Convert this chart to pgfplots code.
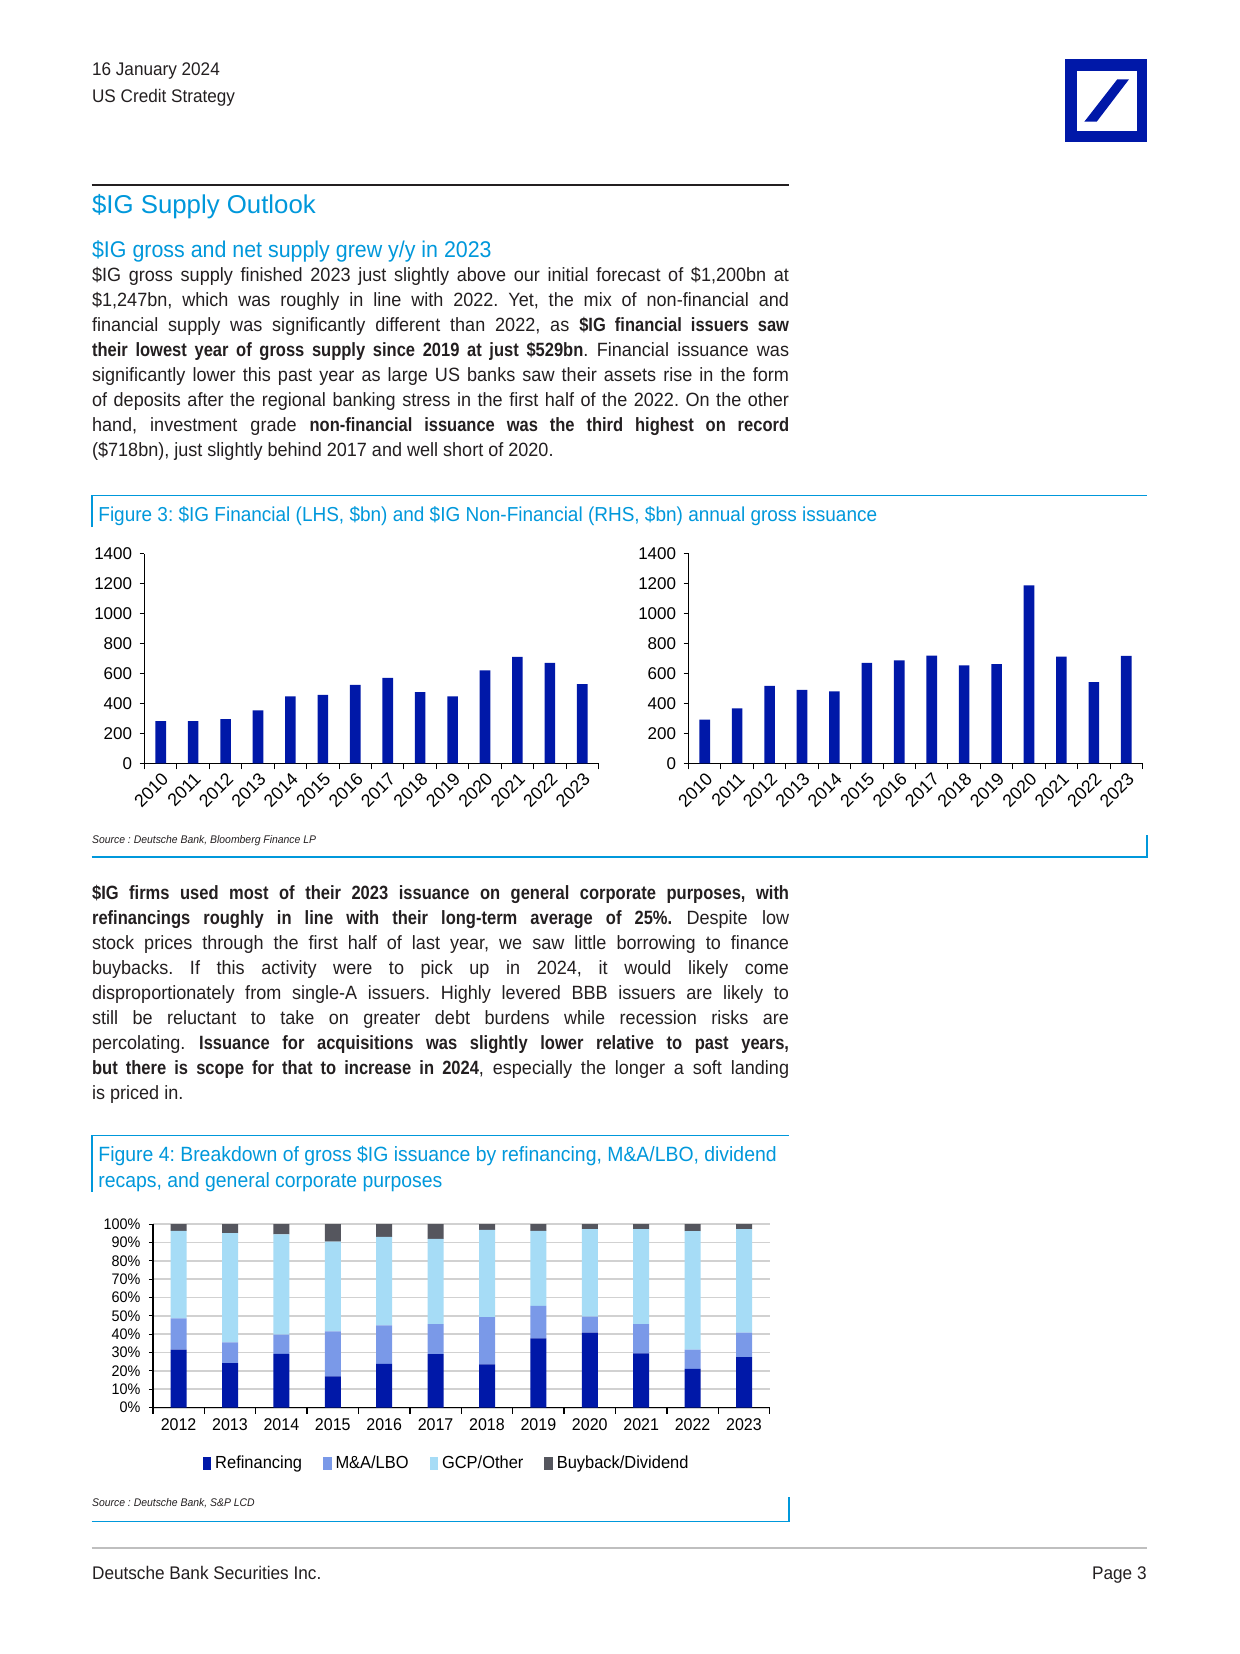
\documentclass[border=0pt]{standalone}
\usepackage{fontspec}
\setmainfont{Liberation Sans}[FakeStretch=0.94, BoldFeatures={FakeStretch=0.86}]
\newfontfamily\wide{Liberation Sans}
\usepackage{pgfplots}
\pgfplotsset{compat=1.18}
\definecolor{dbblue}{RGB}{0,24,168}
\definecolor{dbcyan}{RGB}{0,152,219}
\definecolor{mablue}{RGB}{122,153,232}
\definecolor{gcpblue}{RGB}{166,220,246}
\definecolor{bbgrey}{RGB}{85,86,94}
\definecolor{txt}{RGB}{35,31,32}
\frenchspacing
\newcommand\bodyfont{\fontsize{9.6}{11}\selectfont\color{txt}}
\newcommand\bl[2]{\node[anchor=base west,inner sep=0pt] at (91.7,#1) {\bodyfont\hbox to 348.5pt{#2}};}
\newcommand\lastl[2]{\node[anchor=base west,inner sep=0pt] at (91.7,#1) {\bodyfont #2};}
\pgfplotsset{
  fig3/.style={
    scale only axis, width=227pt, height=104.9pt, anchor=south west,
    xmin=2009.5, xmax=2023.5, ymin=0, ymax=1400,
    axis x line*=bottom, axis y line*=left,
    axis line style={-, black, line width=0.5pt},
    ytick={0,200,...,1400}, xtick={2010,...,2023},
    minor xtick={2009.5,2010.5,...,2023.5},
    major x tick style={draw=none}, minor x tick style={black, line width=0.5pt},
    ytick style={black, line width=0.5pt},
    tick align=outside, major tick length=2.5pt, minor tick length=3pt,
    tick label style={font=\wide\fontsize{8.5}{10}\selectfont, text=black},
    /pgf/number format/assume math mode=true, /pgf/number format/1000 sep={},
    xticklabel style={rotate=45, anchor=north east, inner sep=1pt, font=\wide\fontsize{8.9}{10}\selectfont},
    yticklabel style={inner sep=1pt, xshift=-2.5pt},
    ybar, bar width=5.3pt,
  },
  leg/.style={legend image code/.code={\fill[#1] (0pt,-3pt) rectangle (4.2pt,3.4pt);}},
}
\begin{document}
\begin{tikzpicture}
\begin{scope}[x=0.5pt,y=-0.5pt]
\path[use as bounding box] (0,0) rectangle (1240,1654);
\fill[white] (0,0) rectangle (1240,1654);
% header
\node[anchor=base west,inner sep=0pt] at (91.7,75.8) {\fontsize{9.12}{10}\selectfont\color{txt}16 January 2024};
\node[anchor=base west,inner sep=0pt] at (91.7,102) {\fontsize{9.12}{10}\selectfont\color{txt}US Credit Strategy};
% logo
\fill[dbblue] (1065,59) rectangle (1147.3,141.7);
\fill[white] (1076.7,70.7) rectangle (1136.7,131);
\fill[dbblue] (1084.3,121.7) -- (1096.7,121.7) -- (1129,79.3) -- (1117.3,79.3) -- cycle;
% rule
\draw[line width=1pt, txt] (91.7,184.5) -- (788.7,184.5);
\node[anchor=base west,inner sep=0pt] at (91.7,213.5) {\wide\fontsize{12.9}{14}\selectfont\color{dbcyan}\$IG Supply Outlook};
\node[anchor=base west,inner sep=0pt] at (91.7,257.5) {\fontsize{11.38}{14}\selectfont\color{dbcyan}\$IG gross and net supply grew y/y in 2023};
% paragraph 1
\bl{281}{\$IG gross supply finished 2023 just slightly above our initial forecast of \$1,200bn at}
\bl{306}{\$1,247bn, which was roughly in line with 2022. Yet, the mix of non-financial and}
\bl{331}{financial supply was significantly different than 2022, as \textbf{\$IG financial issuers saw}}
\bl{356}{\textbf{their lowest year of gross supply since 2019 at just \$529bn}. Financial issuance was}
\bl{381}{significantly lower this past year as large US banks saw their assets rise in the form}
\bl{406}{of deposits after the regional banking stress in the first half of the 2022. On the other}
\bl{431}{hand, investment grade \textbf{non-financial issuance was the third highest on record}}
\lastl{456}{(\$718bn), just slightly behind 2017 and well short of 2020.}
% figure 3 frame
\draw[dbcyan, line width=0.8pt] (91.7,527) -- (91.7,495.6) -- (1147,495.6);
\draw[dbcyan, line width=0.8pt] (91.7,857.2) -- (1147,857.2) -- (1147,835);
\node[anchor=base west,inner sep=0pt] at (98,521) {\fontsize{10.1}{12}\selectfont\color{dbcyan}Figure 3: \$IG Financial (LHS, \$bn) and \$IG Non-Financial (RHS, \$bn) annual gross issuance};
\node[anchor=base west,inner sep=0pt] at (91.7,843) {\fontsize{5.54}{7}\selectfont\itshape\color{txt}Source : Deutsche Bank, Bloomberg Finance LP};
% paragraph 2
\bl{899}{\textbf{\$IG firms used most of their 2023 issuance on general corporate purposes, with}}
\bl{924.1}{\textbf{refinancings roughly in line with their long-term average of 25\%.} Despite low}
\bl{949.2}{stock prices through the first half of last year, we saw little borrowing to finance}
\bl{974.3}{buybacks. If this activity were to pick up in 2024, it would likely come}
\bl{999.4}{disproportionately from single-A issuers. Highly levered BBB issuers are likely to}
\bl{1024.5}{still be reluctant to take on greater debt burdens while recession risks are}
\bl{1049.6}{percolating. \textbf{Issuance for acquisitions was slightly lower relative to past years,}}
\bl{1074.7}{\textbf{but there is scope for that to increase in 2024}, especially the longer a soft landing}
\lastl{1099.8}{is priced in.}
% figure 4 frame
\draw[dbcyan, line width=0.8pt] (91.7,1191.5) -- (91.7,1135.6) -- (788.7,1135.6);
\draw[dbcyan, line width=0.8pt] (91.7,1521.5) -- (788.7,1521.5) -- (788.7,1497);
\node[anchor=base west,inner sep=0pt] at (98,1161.5) {\fontsize{10.32}{12}\selectfont\color{dbcyan}Figure 4: Breakdown of gross \$IG issuance by refinancing, M\&A/LBO, dividend};
\node[anchor=base west,inner sep=0pt] at (98,1187) {\fontsize{10.32}{12}\selectfont\color{dbcyan}recaps, and general corporate purposes};
\node[anchor=base west,inner sep=0pt] at (91.7,1506) {\fontsize{5.54}{7}\selectfont\itshape\color{txt}Source : Deutsche Bank, S\&P LCD};
% footer
\draw[line width=1.2pt, black!25] (91.7,1548) -- (1147,1548);
\node[anchor=base west,inner sep=0pt] at (91.7,1579.5) {\fontsize{9.14}{11}\selectfont\color{txt}Deutsche Bank Securities Inc.};
\node[anchor=base east,inner sep=0pt] at (1147,1579.5) {\fontsize{9.14}{11}\selectfont\color{txt}Page 3};
\end{scope}

% Figure 3 left: Financial
\begin{axis}[fig3, at={(72.25pt,-381.7pt)}]
\addplot[fill=dbblue, draw=none] coordinates {
(2010,283) (2011,283) (2012,296) (2013,354) (2014,448) (2015,457) (2016,524)
(2017,571) (2018,475) (2019,448) (2020,620) (2021,711) (2022,671) (2023,529)};
\end{axis}
% Figure 3 right: Non-Financial
\begin{axis}[fig3, at={(344.25pt,-381.7pt)}]
\addplot[fill=dbblue, draw=none] coordinates {
(2010,292) (2011,368) (2012,517) (2013,490) (2014,481) (2015,671) (2016,687)
(2017,720) (2018,655) (2019,662) (2020,1188) (2021,713) (2022,542) (2023,718)};
\end{axis}

% Figure 4: stacked breakdown
\begin{axis}[
  at={(76.45pt,-703.8pt)}, anchor=south west,
  scale only axis, width=308.4pt, height=91.7pt,
  xmin=2011.5, xmax=2023.5, ymin=0, ymax=100,
  ybar stacked, bar width=8pt,
  axis x line*=bottom, axis y line*=left,
  axis line style={-, black, line width=0.6pt},
  ytick={0,10,...,100}, yticklabel={\pgfmathprintnumber{\tick}\%},
  xtick={2012,...,2023}, minor xtick={2011.5,2012.5,...,2023.5},
  major x tick style={draw=none}, minor x tick style={black, line width=0.6pt},
  ytick style={black, line width=0.5pt},
  tick align=outside, major tick length=2pt, minor tick length=3pt,
  ymajorgrids, grid style={black!18, line width=0.9pt},
  /pgf/number format/assume math mode=true, /pgf/number format/1000 sep={},
  yticklabel style={font=\fontsize{7.65}{9}\selectfont, text=black, inner sep=1pt, xshift=-3pt},
  xticklabel style={font=\fontsize{8.51}{10}\selectfont, text=black},
  legend columns=4,
  legend style={at={(0.0803,-0.305)}, anchor=west, draw=none, fill=none,
    font=\fontsize{8.75}{10}\selectfont, inner sep=0pt,
    nodes={inner sep=0.5pt},
    /tikz/every even column/.append style={column sep=10pt},
    /tikz/every odd column/.append style={column sep=1.5pt}},
]
\addplot[fill=dbblue, draw=none, leg=dbblue] coordinates {
(2012,31.6) (2013,24.2) (2014,29.3) (2015,17.1) (2016,23.8) (2017,29.1)
(2018,23.6) (2019,37.8) (2020,40.9) (2021,29.6) (2022,21.1) (2023,27.5)};
\addplot[fill=mablue, draw=none, leg=mablue] coordinates {
(2012,17.1) (2013,11.4) (2014,10.5) (2015,24.5) (2016,21.1) (2017,16.4)
(2018,25.7) (2019,17.7) (2020,8.7) (2021,15.9) (2022,10.5) (2023,13.4)};
\addplot[fill=gcpblue, draw=none, leg=gcpblue] coordinates {
(2012,47.7) (2013,59.5) (2014,54.6) (2015,48.9) (2016,48.2) (2017,46.5)
(2018,47.6) (2019,40.9) (2020,47.7) (2021,51.8) (2022,64.6) (2023,56.4)};
\addplot[fill=bbgrey, draw=none, leg=bbgrey] coordinates {
(2012,3.6) (2013,4.9) (2014,5.6) (2015,9.5) (2016,6.9) (2017,8.0)
(2018,3.1) (2019,3.6) (2020,2.7) (2021,2.7) (2022,3.8) (2023,2.7)};
\legend{Refinancing, M\&A/LBO, GCP/Other, Buyback/Dividend}
\end{axis}
\end{tikzpicture}
\end{document}
